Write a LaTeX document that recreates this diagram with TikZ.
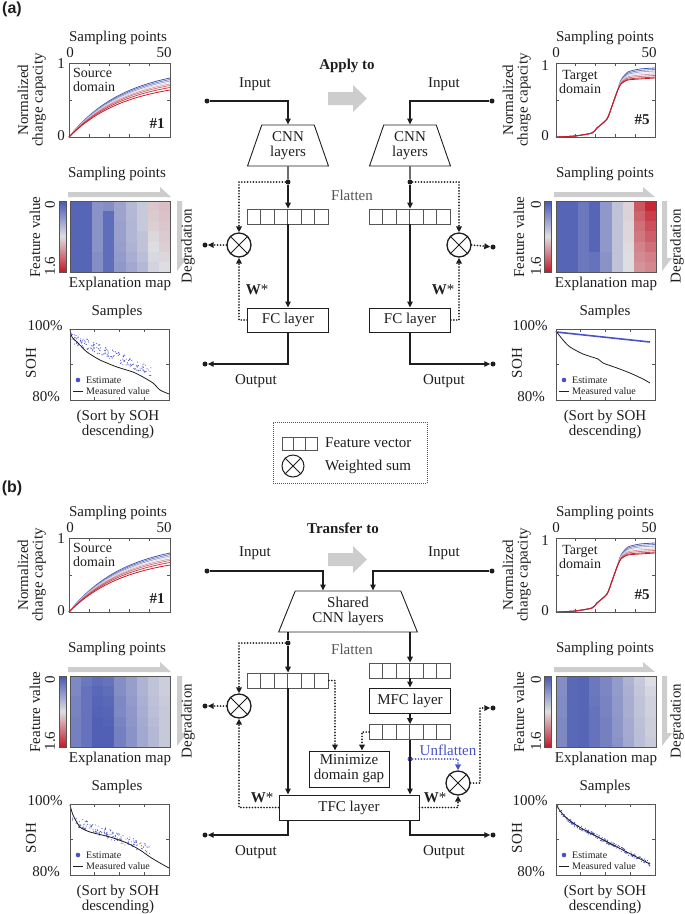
\documentclass[tikz,border=0pt]{standalone}
\usepackage{fontspec}
\setmainfont{Liberation Serif}
\newfontfamily\labelfont{Liberation Sans}
\usetikzlibrary{arrows.meta,shapes.geometric,calc}

\definecolor{hmBlue}{RGB}{72,88,178}
\definecolor{hmMid}{RGB}{222,222,226}
\definecolor{hmRed}{RGB}{196,24,38}
\definecolor{estBlue}{RGB}{72,82,200}
\definecolor{frameGray}{RGB}{85,85,85}
\definecolor{arrGray}{RGB}{205,205,205}
\definecolor{txt}{RGB}{30,30,30}

% heat map: x0, y0, rows of values (0 blue, 50 grey, 100 red)
\newcommand{\hmap}[3]{%
  \foreach \row [count=\r] in {#3} {
    \foreach \v [count=\c] in \row {
      \pgfmathtruncatemacro\m{\v<50 ? 2*\v : 2*\v-100}
      \ifnum\v<50 \colorlet{hmc}{hmMid!\m!hmBlue}\else\colorlet{hmc}{hmRed!\m!hmMid}\fi
      \fill[hmc] ({#1+(\c-1)*11.11},{#2+(\r-1)*10.143}) rectangle ++(11.2,10.25);
    }
  }
}

\begin{document}
\begin{tikzpicture}[x=1pt, y=-1pt,
  every node/.style={font=\fontsize{15}{15}\selectfont, text=txt, inner sep=1pt},
  flow/.style={line width=1.3pt, draw=txt},
  dots/.style={line width=1.9pt, draw=txt, line cap=round, dash pattern=on 0pt off 2.9pt},
  arr/.style={-{Triangle[length=6pt,width=5.5pt]}},
  dotn/.style={circle, fill=txt, inner sep=0pt, minimum size=5pt},
  layer/.style={draw=txt, line width=0.9pt, rectangle, minimum height=25pt, inner sep=0pt, align=center},
  cnn/.style={draw=txt, line width=0.9pt, trapezium, trapezium stretches=true, minimum height=41pt, align=center, inner sep=0pt},
  wsum/.style={draw=txt, line width=1.3pt, circle, minimum size=24pt, inner sep=0pt},
  fvec/.style={draw=frameGray, line width=0.8pt, minimum width=81pt, minimum height=15pt, inner sep=0pt},
  frame/.style={draw=frameGray, line width=0.9pt},
  small/.style={font=\fontsize{10}{10}\selectfont},
  bold/.style={font=\bfseries\fontsize{15}{15}\selectfont},
  garrow/.style={fill=arrGray},
]
\useasboundingbox (0,0) rectangle (685,914);

% heat maps
\hmap{70}{201}{{5,5,22,20,28,36,42,56,58},{5,5,22,8,28,36,42,55,57},{5,5,22,8,27,35,42,54,56},{5,5,22,8,27,35,40,52,55},{5,5,22,8,26,34,40,50,54},{5,5,20,8,25,32,38,48,52},{5,5,20,8,24,30,36,46,50}}
\hmap{556}{201}{{5,5,12,5,24,40,53,84,96},{5,5,12,5,24,40,53,81,90},{5,5,12,5,24,40,52,78,86},{5,5,12,5,24,40,52,76,82},{5,5,12,5,24,40,51,73,78},{5,5,12,10,22,40,50,71,74},{5,5,12,10,22,40,50,69,72}}
\hmap{70}{676}{{18,12,8,10,20,26,34,40,44},{18,10,6,8,20,26,34,40,44},{16,10,5,6,18,25,33,39,43},{16,10,4,5,18,24,32,38,42},{15,10,3,4,16,23,31,37,42},{15,10,3,3,15,22,30,36,42},{15,10,3,3,15,22,30,36,42}}
\hmap{556}{676}{{20,6,5,12,17,25,34,42,50},{20,6,5,12,17,25,33,41,47},{19,6,5,11,16,24,32,40,45},{19,6,5,10,16,24,32,40,45},{18,6,5,10,15,23,31,39,44},{18,6,5,10,15,23,31,38,44},{18,6,5,10,15,22,30,38,43}}

% SOH data
\pgfmathsetseed{7}
\foreach \i in {1,...,170} {
  \pgfmathsetmacro\sx{72+80*rnd}
  \pgfmathsetmacro\sy{338+(\sx-72)*0.42+5*rand}
  \fill[estBlue] (\sx,\sy) circle (0.55pt);
}
\draw[txt, line width=0.8pt] plot[smooth, tension=0.4] coordinates {(70,329) (72,337) (78,343) (87,352) (100,360) (117,367) (133,372) (143,377) (153,383) (160,390) (169,394)};
\draw[estBlue, line width=1.6pt] (556,332) -- (650,342);
\draw[txt, line width=0.8pt] plot[smooth, tension=0.4] coordinates {(556,331) (563,340) (570,347) (583,354) (598,359) (603,363) (617,368) (630,373) (643,379) (650,383)};
\foreach \i in {1,...,170} {
  \pgfmathsetmacro\sx{72+78*rnd}
  \pgfmathsetmacro\sy{820+(\sx-72)*0.38+5*rand}
  \fill[estBlue] (\sx,\sy) circle (0.55pt);
}
\draw[txt, line width=0.8pt] plot[smooth, tension=0.4] coordinates {(70,805) (73,815) (80,827) (90,832) (110,837) (127,843) (140,850) (150,857) (160,863) (169,868)};
\foreach \i in {1,...,220} {
  \pgfmathsetmacro\tt{rnd}
  \pgfmathsetmacro\sy{806+10*(1-exp(-12*\tt))+48*\tt+2.2*rand}
  \fill[estBlue] ({557+93*\tt},\sy) circle (0.6pt);
}
\draw[txt, line width=0.8pt] plot[domain=0:1, samples=40, smooth] ({557+93*\x},{806+10*(1-exp(-12*\x))+48*\x});

% side panels, same frame in (a) and (b)
\foreach \dy/\p in {0/a,475/b} {
\begin{scope}[shift={(0,\dy)}]
  % charge capacity, source
  \foreach \A/\cc in {59/hmBlue, 57.5/{hmMid!30!hmBlue}, 56/{hmMid!60!hmBlue}, 54.5/hmMid, 53/{hmRed!30!hmMid}, 51.5/{hmRed!55!hmMid}, 49.5/{hmRed!80!hmMid}, 47/hmRed}
    \draw[\cc, line width=0.8pt] plot[domain=0:1, samples=25, smooth] ({69+101*\x},{137-\A*(1-exp(-1.8*\x))/0.835});
  \draw[frame] (69,63) rectangle (170,137);
  \foreach \t in {1,...,4} {
    \draw[frame] (69+20.2*\t,137) -- ++(0,-3);
    \draw[frame] (69+20.2*\t,63) -- ++(0,3);
  }
  \draw[frame] (69,100) -- ++(3,0) (170,100) -- ++(-3,0);
  \node (spL\p) at (118,38) {Sampling points};
  \node (x0L\p) at (70,53) {0};
  \node (x50L\p) at (164,53) {50};
  \node (y1L\p) at (61,64) {1};
  \node (y0L\p) at (61,136) {0};
  \node[rotate=90] (ncL\p) at (23,100) {Normalized};
  \node[rotate=90] (ccL\p) at (39,100) {charge capacity};
  \node[align=left, anchor=north west, font=\fontsize{14}{14}\selectfont] (srcL\p) at (72,67) {Source\\domain};
  \node[bold] (idL\p) at (157,124) {\#1};

  % charge capacity, target
  \foreach \d/\cc in {10/hmBlue, 8.5/{hmMid!30!hmBlue}, 7/{hmMid!60!hmBlue}, 5.5/hmMid, 4/{hmRed!30!hmMid}, 2.5/{hmRed!55!hmMid}, 1/{hmRed!80!hmMid}, 0/hmRed}
    \draw[\cc, line width=0.8pt] plot[smooth, tension=0.4] coordinates {(556,137) (575,136) (592,133) (597,128) (607,119) (612,106) (617,92) (621,{84-0.4*\d}) (628,{80-0.8*\d}) (640,{79-\d}) (655,{78-\d})};
  \draw[frame] (556,63) rectangle (655,137);
  \foreach \t in {1,...,4} {
    \draw[frame] (556+19.8*\t,137) -- ++(0,-3);
    \draw[frame] (556+19.8*\t,63) -- ++(0,3);
  }
  \draw[frame] (556,100) -- ++(3,0) (655,100) -- ++(-3,0);
  \node (spR\p) at (605,38) {Sampling points};
  \node (x0R\p) at (556,53) {0};
  \node (x50R\p) at (649,53) {50};
  \node (y1R\p) at (545,66) {1};
  \node (y0R\p) at (545,136) {0};
  \node[rotate=90] (ncR\p) at (508,100) {Normalized};
  \node[rotate=90] (ccR\p) at (524,100) {charge capacity};
  \node[align=center, font=\fontsize{14}{14}\selectfont] (tgtR\p) at (580,82) {Target\\domain};
  \node[bold] (idR\p) at (642,120) {\#5};

  % explanation maps
  \fill[garrow] (68,192) -- (160,192) -- (160,187) -- (171,197) -- (68,197) -- cycle;
  \fill[garrow] (177,201) -- (182,201) -- (182,258) -- (187,258) -- (177,271) -- cycle;
  \draw[frame] (70,201) rectangle (170,272);
  \shade[top color=hmBlue, bottom color=hmRed, middle color=hmMid] (59,201) rectangle (66,272);
  \draw[frame, line width=0.6pt] (59,201) rectangle (66,272);
  \node (hspL\p) at (117,174) {Sampling points};
  \node[rotate=90] (fvlL\p) at (35,237) {Feature value};
  \node[rotate=90] (cb0L\p) at (50,205) {0};
  \node[rotate=90] (cb1L\p) at (50,266) {1.6};
  \node (exL\p) at (120,284) {Explanation map};
  \node[rotate=90] (dgL\p) at (188,246) {Degradation};

  \fill[garrow] (554,192) -- (643,192) -- (643,187) -- (655,197) -- (554,197) -- cycle;
  \fill[garrow] (662,201) -- (667,201) -- (667,258) -- (672,258) -- (662,271) -- cycle;
  \draw[frame] (556,201) rectangle (656,272);
  \shade[top color=hmBlue, bottom color=hmRed, middle color=hmMid] (544,201) rectangle (551,272);
  \draw[frame, line width=0.6pt] (544,201) rectangle (551,272);
  \node (hspR\p) at (605,174) {Sampling points};
  \node[rotate=90] (fvlR\p) at (519,237) {Feature value};
  \node[rotate=90] (cb0R\p) at (536,205) {0};
  \node[rotate=90] (cb1R\p) at (536,266) {1.6};
  \node (exR\p) at (606,284) {Explanation map};
  \node[rotate=90] (dgR\p) at (677,246) {Degradation};

  % SOH frames
  \draw[frame] (70,329) rectangle (169,400);
  \draw[frame] (556,329) rectangle (655,400);
  \foreach \t in {1,2,3} {
    \draw[frame] (70+24.75*\t,329) -- ++(0,3) (70+24.75*\t,400) -- ++(0,-3);
    \draw[frame] (556+24.75*\t,329) -- ++(0,3) (556+24.75*\t,400) -- ++(0,-3);
  }
  \draw[frame] (70,364.5) -- ++(3,0) (169,364.5) -- ++(-3,0) (556,364.5) -- ++(3,0) (655,364.5) -- ++(-3,0);
  \fill[estBlue] (78,380) circle (2.3pt);
  \node[small, anchor=west] (estL\p) at (85,380) {Estimate};
  \draw[txt, line width=0.8pt] (73,391) -- (83,391);
  \node[small, anchor=west] (mvL\p) at (85,391) {Measured value};
  \fill[estBlue] (564,380) circle (2.3pt);
  \node[small, anchor=west] (estR\p) at (571,380) {Estimate};
  \draw[txt, line width=0.8pt] (559,391) -- (569,391);
  \node[small, anchor=west] (mvR\p) at (571,391) {Measured value};
  \node (smL\p) at (117,312) {Samples};
  \node (hiL\p) at (45,326) {100\%};
  \node (loL\p) at (46,397) {80\%};
  \node[rotate=90] (sohL\p) at (31,363) {SOH};
  \node[align=center] (sortL\p) at (118,424) {(Sort by SOH\\descending)};
  \node (smR\p) at (605,312) {Samples};
  \node (hiR\p) at (530,326) {100\%};
  \node (loR\p) at (531,397) {80\%};
  \node[rotate=90] (sohR\p) at (517,363) {SOH};
  \node[align=center] (sortR\p) at (605,424) {(Sort by SOH\\descending)};
\end{scope}
}

% (a) apply to
\node[font=\labelfont\bfseries\fontsize{16}{16}\selectfont] (lblA) at (12,9) {(a)};
\node[bold] (applyA) at (347,66) {Apply to};
\fill[garrow] (328,92) -- (353,92) -- (353,85) -- (367,98.5) -- (353,112) -- (353,105) -- (328,105) -- cycle;

\node (inA) at (255,84) {Input};
\node (inA2) at (444,84) {Input};
\node[dotn] (inAdot) at (207,101) {};
\node[dotn] (inA2dot) at (492,101) {};
\node[cnn, trapezium left angle=71, trapezium right angle=71, minimum width=81pt] (cnnA) at (288,145.5) {CNN\\layers};
\node[cnn, trapezium left angle=71, trapezium right angle=71, minimum width=81pt] (cnnA2) at (410,145.5) {CNN\\layers};
\node[dotn] (jA) at (288,182) {};
\node[dotn] (jA2) at (410,182) {};
\node[text=frameGray] (flatA) at (352,195) {Flatten};
\node[fvec] (fvA) at (288,216.5) {};
\node[fvec] (fvA2) at (410,216.5) {};
\node[wsum] (wsA) at (239,245) {};
\node[wsum] (wsA2) at (459,245) {};
\node[dotn] (wsAout) at (205,245) {};
\node[dotn] (wsA2out) at (493,247) {};
\node[layer, minimum width=81pt, minimum height=24pt] (fcA) at (288,320) {FC layer};
\node[layer, minimum width=81pt, minimum height=24pt] (fcA2) at (410,320) {FC layer};
\node[bold] (wA) at (257,290) {W\textmd{*}};
\node[bold] (wA2) at (443,290) {W\textmd{*}};
\node[dotn] (outAdot) at (205,364) {};
\node[dotn] (outA2dot) at (493,364) {};
\node (outA) at (256,381) {Output};
\node (outA2) at (444,381) {Output};

\draw[flow, arr] (inAdot) -| (cnnA.north);
\draw[flow, arr] (inA2dot) -| (cnnA2.north);
\draw[flow] (cnnA.south) -- (jA);
\draw[flow, arr] (jA) -- (fvA.north);
\draw[flow, arr] (fvA.south) -- (fcA.north);
\draw[flow] (cnnA2.south) -- (jA2);
\draw[flow, arr] (jA2) -- (fvA2.north);
\draw[flow, arr] (fvA2.south) -- (fcA2.north);
\draw[dots, arr] (jA) -| (wsA.north);
\draw[dots, arr] (jA2) -| (wsA2.north);
\draw[dots, arr] (wsA.west) -- (wsAout);
\draw[dots, arr] (wsA2.east) -- (wsA2out);
\draw[dots, arr] (fcA.west) -| (wsA.south);
\draw[dots, arr] (fcA2.east) -| (wsA2.south);
\draw[flow, arr] (fcA.south) |- (outAdot);
\draw[flow, arr] (fcA2.south) |- (outA2dot);

% legend
\node[draw=frameGray, dash pattern=on 1pt off 1pt, line width=0.7pt, minimum width=154pt, minimum height=61pt] (legA) at (350,452.5) {};
\node[fvec, minimum width=35pt, minimum height=13pt] (fvL) at (299.5,443.5) {};
\node[anchor=west] (fvLt) at (324,443) {Feature vector};
\node[wsum, line width=1pt, minimum size=22pt] (wsL) at (293,466) {};
\node[anchor=west] (wsLt) at (324,467) {Weighted sum};

% (b) transfer to
\node[font=\labelfont\bfseries\fontsize{16}{16}\selectfont] (lblB) at (12,488) {(b)};
\node[bold] (transB) at (343,528) {Transfer to};
\fill[garrow] (328,553) -- (353,553) -- (353,546) -- (367,559.5) -- (353,573) -- (353,566) -- (328,566) -- cycle;

\node (inB) at (255,553) {Input};
\node (inB2) at (444,553) {Input};
\node[dotn] (inBdot) at (207,571) {};
\node[dotn] (inB2dot) at (492,571) {};
\node[cnn, trapezium left angle=68.7, trapezium right angle=68.7, minimum width=140pt] (cnnB) at (348,611.5) {Shared\\CNN layers};
\node[dotn] (jB) at (288,643) {};
\node[text=frameGray] (flatB) at (352,649) {Flatten};
\node[fvec] (fvB) at (288,680.5) {};
\node[fvec] (fvB2) at (410,670.5) {};
\node[layer, minimum width=81pt] (mfcB) at (410,700.5) {MFC layer};
\node[fvec] (fvB3) at (410,732) {};
\node[layer, minimum width=80pt, minimum height=36pt] (mdgB) at (349,769) {Minimize\\domain gap};
\node[dotn, fill=estBlue] (ufB) at (410,759) {};
\node[text=estBlue] (ufT) at (448,750) {Unflatten};
\node[wsum] (wsB) at (239,706) {};
\node[wsum] (wsB2) at (458,783) {};
\node[dotn] (wsBout) at (205,706) {};
\node[dotn] (wsB2out) at (493,708) {};
\coordinate (bendB) at (480,708);
\node[layer, minimum width=140pt] (tfcB) at (349,807.5) {TFC layer};
\node[bold] (wB) at (262,798) {W\textmd{*}};
\node[bold] (wB2) at (435,798) {W\textmd{*}};
\node[dotn] (outBdot) at (205,835) {};
\node[dotn] (outB2dot) at (493,835) {};
\node (outB) at (256,852) {Output};
\node (outB2) at (444,852) {Output};

\draw[flow, arr] (inBdot) -| ([xshift=-25pt]cnnB.north);
\draw[flow, arr] (inB2dot) -| ([xshift=25pt]cnnB.north);
\draw[flow] (cnnB.south -| jB) -- (jB);
\draw[flow, arr] (jB) -- (fvB.north);
\draw[flow, arr] (fvB.south) -- (tfcB.north -| fvB.south);
\draw[flow, arr] (cnnB.south -| fvB2.north) -- (fvB2.north);
\draw[flow, arr] (fvB2.south) -- (mfcB.north);
\draw[flow, arr] (mfcB.south) -- (fvB3.north);
\draw[flow, arr] (fvB3.south) -- (tfcB.north -| fvB3.south);
\draw[dots, arr] (jB) -| (wsB.north);
\draw[dots, arr] (wsB.west) -- (wsBout);
\draw[dots, arr] (fvB.east) -| ([xshift=-14pt]mdgB.north);
\draw[dots, arr] (fvB3.west) -| ([xshift=13pt]mdgB.north);
\draw[dots, draw=estBlue, arr] (ufB) -| (wsB2.north);
\draw[dots, arr] (wsB2.east) -| (bendB) -- (wsB2out);
\draw[dots, arr] (tfcB.west) -| (wsB.south);
\draw[dots, arr] (tfcB.east) -| (wsB2.south);
\draw[flow, arr] (tfcB.south -| fvB.south) |- (outBdot);
\draw[flow, arr] (tfcB.south -| fvB3.south) |- (outB2dot);

% crosses in weighted sums
\foreach \w in {wsA, wsA2, wsB, wsB2, wsL}
  \draw[txt, line width=1pt] (\w.north west) -- (\w.south east) (\w.north east) -- (\w.south west);
% cells of feature vectors
\foreach \f in {fvA, fvA2, fvB, fvB2, fvB3}
  \foreach \i in {1,...,5}
    \draw[frameGray, line width=0.8pt] ($(\f.north west)+(\i*13.5,0)$) -- ($(\f.south west)+(\i*13.5,0)$);
\foreach \i in {1,2}
  \draw[frameGray, line width=0.8pt] ($(fvL.north west)+(\i*11.67,0)$) -- ($(fvL.south west)+(\i*11.67,0)$);
\end{tikzpicture}
\end{document}
